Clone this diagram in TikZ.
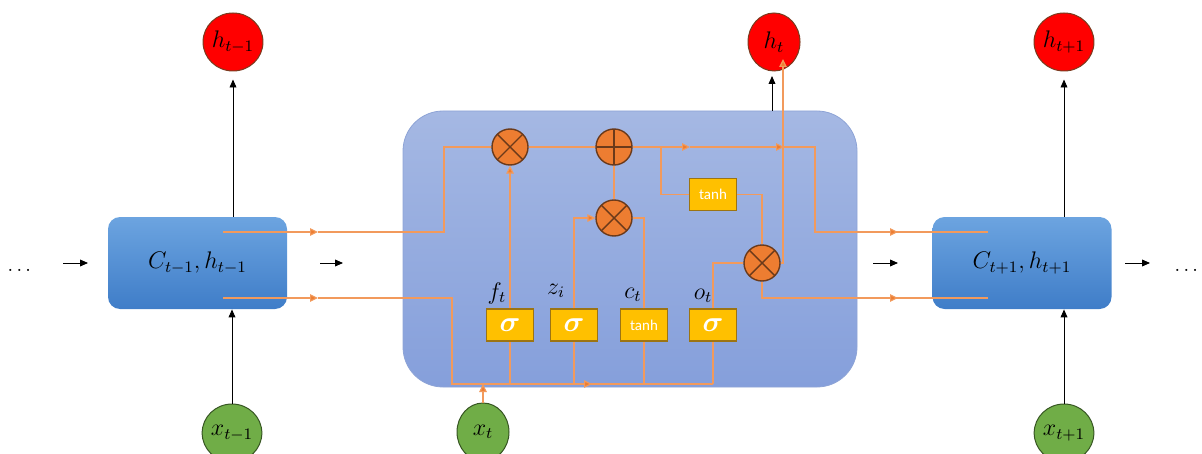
\documentclass[tikz,border=0pt]{standalone}
\usepackage{fontspec}
\usepackage{amsmath}
\newfontfamily\calibri{Carlito}
\usetikzlibrary{arrows.meta,shapes.geometric}
\definecolor{orline}{HTML}{F29A5C}
\definecolor{orarrow}{HTML}{ED7D31}
\definecolor{stTop}{HTML}{6CA4E0}
\definecolor{stBot}{HTML}{3F7DC8}
\definecolor{ceTop}{HTML}{A5B8E3}
\definecolor{ceBot}{HTML}{859FDB}
\definecolor{ceLine}{HTML}{8EA4D6}
\definecolor{opFill}{HTML}{ED7D31}
\definecolor{opLine}{HTML}{6B3A1A}
\definecolor{gFill}{HTML}{FFC000}
\definecolor{gLine}{HTML}{9C7412}
\definecolor{redLine}{HTML}{7A3B1F}
\definecolor{grFill}{HTML}{70AD47}
\definecolor{grLine}{HTML}{375623}
\tikzset{
  orl/.style={draw=orline, line width=0.6pt},
  ora/.style={orl, -{Triangle[length=4pt,width=3.8pt,fill=orarrow]}},
  blk/.style={draw=black, line width=0.45pt, -{Triangle[length=4pt,width=3.4pt]}},
  state/.style={rectangle, rounded corners=6pt, top color=stTop, bottom color=stBot, minimum width=89.5pt, minimum height=46pt, inner sep=0pt, font=\large},
  cellbox/.style={rectangle, rounded corners=20pt, top color=ceTop, bottom color=ceBot, draw=ceLine, line width=0.4pt, minimum width=227pt, minimum height=138pt, inner sep=0pt},
  op/.style={circle, fill=opFill, draw=opLine, line width=0.7pt, minimum size=18pt, inner sep=0pt},
  mult/.style={op, path picture={\draw[opLine,line width=0.7pt] (path picture bounding box.north west) -- (path picture bounding box.south east) (path picture bounding box.north east) -- (path picture bounding box.south west);}},
  plus/.style={op, path picture={\draw[opLine,line width=0.7pt] (path picture bounding box.north) -- (path picture bounding box.south) (path picture bounding box.east) -- (path picture bounding box.west);}},
  gate/.style={rectangle, fill=gFill, draw=gLine, line width=0.7pt, minimum width=23.5pt, minimum height=16pt, inner sep=0pt, text=white},
  sig/.style={gate, font=\Large},
  tanhbox/.style={gate, font=\calibri\fontsize{7.5}{8}\selectfont},
  hout/.style={ellipse, fill=red, draw=redLine, line width=0.5pt, minimum width=26pt, minimum height=29pt, inner sep=0pt, font=\fontsize{11.5}{13}\selectfont},
  xin/.style={ellipse, fill=grFill, draw=grLine, line width=0.5pt, minimum width=26pt, minimum height=29pt, inner sep=0pt, font=\fontsize{11.5}{13}\selectfont},
  glabel/.style={inner sep=0pt, font=\fontsize{12}{14}\selectfont},
}
\begin{document}
\begin{tikzpicture}[x=0.5pt,y=-0.5pt]
\useasboundingbox (0,0) rectangle (1202,454);

% cell and states
\node[cellbox] (cell) at (630,249) {};
\node[state] (L) at (197.5,263) {$C_{t-1},h_{t-1}$};
\node[state] (R) at (1022,263) {$C_{t+1},h_{t+1}$};

% outputs and inputs
\node[hout] (hL) at (233,42) {$h_{t-1}$};
\node[hout] (hT) at (774,42) {$h_t$};
\node[hout] (hR) at (1064,42) {$h_{t+1}$};
\node[xin] (xL) at (232,433) {$x_{t-1}$};
\node[xin] (xT) at (483,432) {$x_t$};
\node[xin] (xR) at (1064,433) {$x_{t+1}$};

% dots
\node[inner sep=0pt] (dl) at (21,270) {$\dots$};
\node[inner sep=0pt] (dr) at (1188,270) {$\dots$};

% operators
\node[mult] (m1) at (510,147) {};
\node[plus] (p) at (614,147) {};
\node[mult] (m2) at (614,218) {};
\node[mult] (m3) at (762,263) {};
\node[tanhbox] (tb) at (713,194.5) {tanh};

% gates
\node[sig] (gf) at (510,325) {$\boldsymbol{\sigma}$};
\node[sig] (gz) at (574,325) {$\boldsymbol{\sigma}$};
\node[tanhbox] (gc) at (644,325) {tanh};
\node[sig] (go) at (713,325) {$\boldsymbol{\sigma}$};
\node[glabel] (lf) at (497,293) {$f_t$};
\node[glabel] (lz) at (556,291) {$z_i$};
\node[glabel] (lc) at (633,295) {$c_t$};
\node[glabel] (lo) at (703,296) {$o_t$};

% coordinates
\coordinate (cA) at (223,232);
\coordinate (cAm) at (318,232);
\coordinate (cB) at (444,232);
\coordinate (hA) at (223,298);
\coordinate (hAm) at (318,298);
\coordinate (hB) at (452,298);
\coordinate (bus0) at (452,384);
\coordinate (busm) at (592,384);
\coordinate (bus1) at (713,384);
\coordinate (cta) at (690,147);
\coordinate (ctb) at (784,147);
\coordinate (ctc) at (815,147);
\coordinate (ctd) at (815,232);
\coordinate (cte) at (898,232);
\coordinate (ctf) at (988,232);
\coordinate (br) at (661,147);
\coordinate (tbr) at (762,194.5);
\coordinate (hin) at (783,59);
\coordinate (hvA) at (783,263);
\coordinate (oA) at (762,298);
\coordinate (oB) at (898,298);
\coordinate (oC) at (988,298);
\coordinate (zA) at (574,218);
\coordinate (cA2) at (644,218);
\coordinate (oo) at (713,263);
\coordinate (busx) at (483,384);

% black arrows
\coordinate (a1) at (63,263);  \coordinate (a1e) at (88,263);
\coordinate (a2) at (320,263); \coordinate (a2e) at (343,263);
\coordinate (a3) at (873,263); \coordinate (a3e) at (898,263);
\coordinate (a4) at (1125,263);\coordinate (a4e) at (1150,263);
\draw[blk] (a1) -- (a1e);
\draw[blk] (a2) -- (a2e);
\draw[blk] (a3) -- (a3e);
\draw[blk] (a4) -- (a4e);
\coordinate (hTa) at (772,111); \coordinate (hTb) at (772,76);
\draw[blk] (hTa) -- (hTb);
\draw[blk, shorten >=4pt] (L.north -| hL) -- (hL.south);
\draw[blk, shorten >=4pt] (R.north -| hR) -- (hR.south);
\draw[blk] (xL.north) -- (L.south -| xL);
\draw[blk] (xR.north) -- (R.south -| xR);

% orange cell state path
\draw[ora] (cA) -- (cAm);
\draw[orl] (cAm) -- (cB) |- (m1.west);
\draw[orl] (m1.east) -- (p.west);
\draw[ora] (p.east) -- (cta);
\draw[ora] (cta) -- (ctb);
\draw[orl] (ctb) -- (ctc) -- (ctd) -- (cte);
\draw[ora] (ctd) -- (cte);
\draw[orl] (cte) -- (ctf);
\draw[orl] (br) |- (tb.west);
\draw[orl] (tb.east) -- (tbr) -- (m3.north);
\draw[ora] (m3.east) -- (hvA) -- (hin);
\draw[orl] (m3.south) -- (oA) -- (oB);
\draw[ora] (oA) -- (oB);
\draw[orl] (oB) -- (oC);
\draw[orl] (m2.north) -- (p.south);

% hidden path and bus
\draw[ora] (hA) -- (hAm);
\draw[orl] (hAm) -- (hB) -- (bus0) -- (busm);
\draw[ora] (bus0) -- (busm);
\draw[orl] (busm) -- (bus1);
\draw[ora] (xT.north) -- (busx);
\draw[orl] (bus0 -| gf) -- (gf.south);
\draw[orl] (bus0 -| gz) -- (gz.south);
\draw[orl] (bus0 -| gc) -- (gc.south);
\draw[orl] (bus1) -- (go.south);
\draw[ora] (gf.north) -- (m1.south);
\draw[ora] (gz.north) -- (zA) -- (m2.west);
\draw[orl] (gc.north) -- (cA2) -- (m2.east);
\draw[orl] (go.north) -- (oo) -- (m3.west);
\end{tikzpicture}
\end{document}
